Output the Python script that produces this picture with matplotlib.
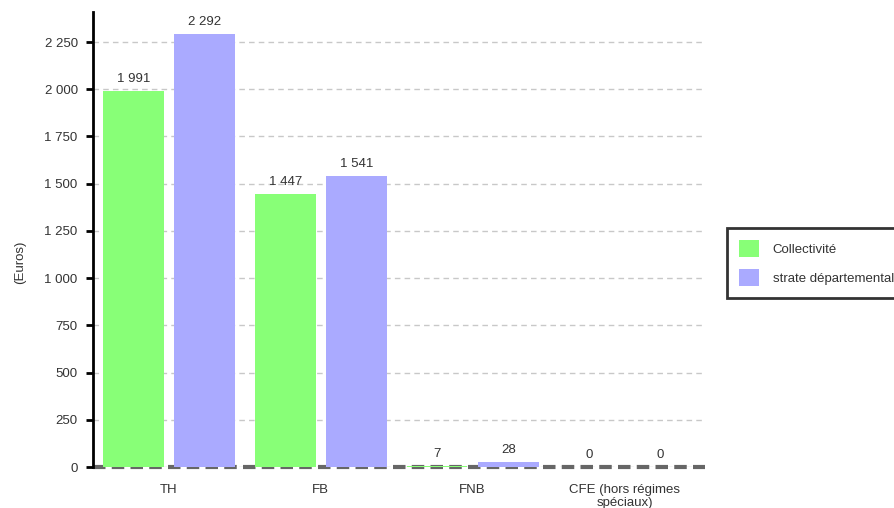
import numpy as np
import matplotlib.pyplot as plt

categories = ["TH", "FB", "FNB", "CFE (hors régimes\nspéciaux)"]
collectivite = [1991, 1447, 7, 0]
strate = [2292, 1541, 28, 0]
series_names = ["Collectivité", "strate départementale"]
yticks = [0, 250, 500, 750, 1000, 1250, 1500, 1750, 2000, 2250]

green = "#88ff77"
blue = "#aaaaff"
txt = "#333333"
fs = 9.5

plt.rcParams['font.family'] = ['Liberation Sans', 'DejaVu Sans']

fig = plt.figure(figsize=(8.94, 5.08), dpi=100)
ax = fig.add_axes([93/894, 1 - 467/508, 612/894, 455/508])

x = np.arange(len(categories))
w = 0.40
off = 0.234
b1 = ax.bar(x - off, collectivite, w, color=green, label=series_names[0], zorder=3)
b2 = ax.bar(x + off, strate, w, color=blue, label=series_names[1], zorder=3)

def fmt(v):
    return f"{v:,}".replace(",", " ")

for bars, vals in ((b1, collectivite), (b2, strate)):
    for b, v in zip(bars, vals):
        ax.text(b.get_x() + b.get_width() / 2, v + 30, fmt(v), ha="center", va="bottom",
                fontsize=fs, color=txt)

ax.set_xlim(-0.5, 3.53)
ax.set_ylim(0, 2409)
ax.set_yticks(yticks)
ax.set_yticklabels([fmt(v) for v in yticks], fontsize=fs, color=txt)
ax.set_xticks(x)
ax.set_xticklabels(categories, fontsize=fs, color=txt, linespacing=1.2)
ax.tick_params(axis="x", length=0, pad=12)
ax.tick_params(axis="y", length=5, width=2, color="black", pad=6)

ax.grid(axis="y", color="#c8c8c8", linestyle=(0, (4, 3)), linewidth=1, zorder=0)
ax.axhline(0, color="#666666", linewidth=3, linestyle=(0, (3, 1.5)), zorder=2, clip_on=False)

for s in ("top", "right", "bottom"):
    ax.spines[s].set_visible(False)
ax.spines["left"].set_linewidth(2)
ax.spines["left"].set_color("black")

fig.text(20/894, 1 - 262/508, "(Euros)", rotation=90, ha="center", va="center",
         fontsize=fs, color=txt)

leg = fig.legend(handles=[b1, b2], loc="upper left", bbox_to_anchor=(727/894, 1 - 228/508),
                 fontsize=fs, frameon=True, fancybox=False, edgecolor="black",
                 handlelength=1.55, handleheight=1.6, borderpad=0.9, labelspacing=0.95,
                 handletextpad=1.0, borderaxespad=0)
leg.get_frame().set_linewidth(2)
for t in leg.get_texts():
    t.set_color(txt)

fig.savefig("out.png", dpi=100)
